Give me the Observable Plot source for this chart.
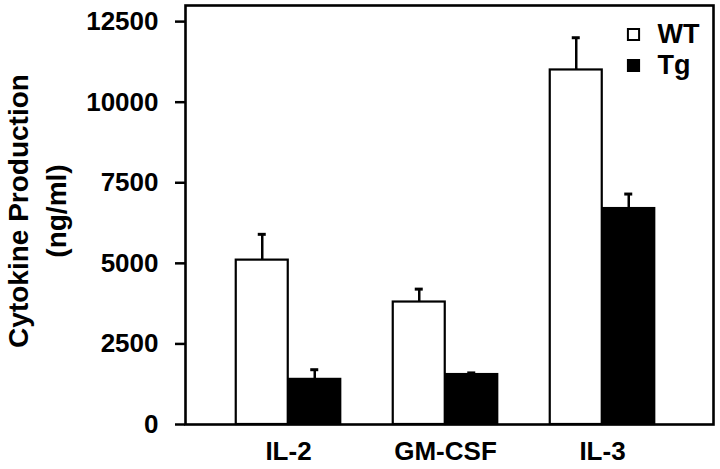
<!DOCTYPE html>
<html>
<head>
<meta charset="utf-8">
<script src="https://cdn.jsdelivr.net/npm/d3@7"></script>
<script src="https://cdn.jsdelivr.net/npm/@observablehq/plot@0.6"></script>
<style>
  html, body { margin: 0; padding: 0; background: #fff; }
  #chart { width: 720px; height: 469px; }
</style>
</head>
<body>
<div id="chart"></div>
<script>
// ---- data ----
const cytokines = ["IL-2", "GM-CSF", "IL-3"];
const groups = ["WT", "Tg"];
const wtValues = [5100, 3800, 11000];
const wtErrors = [800, 400, 1000];
const tgValues = [1400, 1550, 6700];
const tgErrors = [300, 50, 450];
const yTicks = [0, 2500, 5000, 7500, 10000, 12500];
const yLabel = "Cytokine Production\n(ng/ml)";

// ---- styles ----
const FONT = "'Liberation Sans', Arial, Helvetica, sans-serif";
const BAR_W = 52.5;
const fills = {WT: "white", Tg: "black"};
const offsets = {WT: -BAR_W / 2, Tg: BAR_W / 2};

const rows = [];
cytokines.forEach((c, i) => {
  rows.push({cytokine: c, group: "WT", value: wtValues[i], error: wtErrors[i]});
  rows.push({cytokine: c, group: "Tg", value: tgValues[i], error: tgErrors[i]});
});

const barMarks = groups.map(g => Plot.barY(rows.filter(d => d.group === g), {
  x: "cytokine", y: "value", fill: fills[g], stroke: "black", strokeWidth: 2.2, dx: offsets[g]
}));
const errMarks = groups.flatMap(g => {
  const data = rows.filter(d => d.group === g);
  return [
    Plot.ruleX(data, {x: "cytokine", y1: "value", y2: d => d.value + d.error, dx: offsets[g], stroke: "black", strokeWidth: 2.5}),
    Plot.tickY(data, {x: "cytokine", y: d => d.value + d.error, dx: offsets[g], insetLeft: 22, insetRight: 22, stroke: "black", strokeWidth: 3})
  ];
});

const legendRowDy = {WT: 29, Tg: 60};
const legendMarks = groups.flatMap(g => [
  Plot.dot([g], {frameAnchor: "top-right", dx: -80, dy: legendRowDy[g], symbol: "square", r: 6.3,
    fill: fills[g], stroke: "black", strokeWidth: 2}),
  Plot.text([g], {frameAnchor: "top-right", dx: -56, dy: legendRowDy[g], text: d => d, textAnchor: "start",
    lineAnchor: "middle", fontSize: 27, fontWeight: "bold", fill: "black"})
]);

const chart = Plot.plot({
  width: 720,
  height: 469,
  marginLeft: 185,
  marginRight: 7,
  marginTop: 5,
  marginBottom: 45,
  style: {fontFamily: FONT, fontWeight: "bold", color: "black", background: "white"},
  x: {domain: cytokines, paddingInner: 0.668, paddingOuter: 0.505, align: 0.475, label: null},
  y: {domain: [0, 13000], label: null},
  marks: [
    ...barMarks,
    ...errMarks,
    Plot.axisY({ticks: yTicks, tickSize: 10, tickPadding: 17, fontSize: 26, fontWeight: "bold", strokeWidth: 2.5, label: null, tickFormat: d => String(d)}),
    Plot.axisX({tickSize: 0, tickPadding: 17, fontSize: 26, fontWeight: "bold", label: null}),
    Plot.text([yLabel], {frameAnchor: "left", dx: -151, dy: -4, rotate: -90, text: d => d,
      fontSize: 28, fontWeight: "bold", lineHeight: 1.38, textAnchor: "middle", lineAnchor: "middle", fill: "black"}),
    ...legendMarks,
    Plot.frame({stroke: "black", strokeWidth: 2.6})
  ]
});
document.getElementById("chart").appendChild(chart);
</script>
</body>
</html>
